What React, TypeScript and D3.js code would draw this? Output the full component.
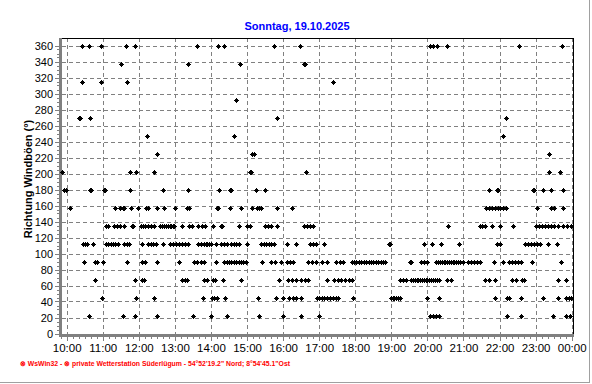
import React from "react";
import * as d3 from "d3";

const TITLE = "Sonntag, 19.10.2025";
const Y_LABEL = "Richtung Windböen  (°)";
const FOOTER = "⊗ WsWin32  -  ⊗ private Wetterstation Süderlügum  -  54°52'19.2\" Nord; 8°54'45.1\"Ost";

const Y_TICKS = [0, 20, 40, 60, 80, 100, 120, 140, 160, 180, 200, 220, 240, 260, 280, 300, 320, 340, 360];
const X_TICK_HOURS = [10, 11, 12, 13, 14, 15, 16, 17, 18, 19, 20, 21, 22, 23, 24];
const X_TICK_LABELS = ["10:00", "11:00", "12:00", "13:00", "14:00", "15:00", "16:00", "17:00", "18:00", "19:00", "20:00", "21:00", "22:00", "23:00", "00:00"];

// wind gust direction samples: times (HH:MM) per direction (degrees)
const d360 = ["10:26", "10:37", "10:57", "11:39", "11:53", "13:37", "14:11", "14:21", "15:44", "16:28", "20:05", "20:10", "20:16", "20:33", "22:32", "23:44"];
const d337 = ["11:30", "13:21", "14:48", "16:34", "16:36"];
const d315 = ["10:25", "10:57", "11:41", "17:23"];
const d292 = ["14:41"];
const d270 = ["10:20", "10:22", "10:39", "15:49", "22:10"];
const d247 = ["12:13", "14:39", "22:06"];
const d225 = ["12:31", "15:08", "15:11", "23:22"];
const d202 = ["09:52", "11:45", "11:56", "12:26", "15:05", "15:07", "16:38", "23:22", "23:40"];
const d180 = ["09:56", "09:58", "10:39", "10:41", "11:02", "11:04", "11:45", "12:40", "13:21", "14:13", "14:31", "14:33", "15:15", "15:30", "21:42", "21:56", "21:58", "22:56", "22:58", "23:12", "23:25", "23:45"];
const d157 = ["10:06", "11:20", "11:29", "11:33", "11:36", "11:47", "11:59", "12:12", "12:15", "12:30", "12:41", "13:00", "13:20", "13:24", "14:10", "14:12", "14:32", "14:50", "15:08", "15:16", "15:20", "15:24", "15:49", "16:14", "21:37", "21:42", "21:47", "21:52", "21:57", "22:01", "22:06", "22:11", "23:02", "23:26", "23:30", "23:45"];
const d135 = ["11:05", "11:09", "11:19", "11:23", "11:28", "11:35", "11:48", "11:50", "12:03", "12:07", "12:11", "12:15", "12:20", "12:26", "12:36", "12:39", "12:42", "12:45", "12:48", "12:51", "12:54", "12:57", "12:59", "13:11", "13:24", "13:28", "13:39", "13:45", "13:50", "14:04", "14:16", "14:18", "14:46", "15:00", "15:05", "15:30", "15:35", "15:39", "15:50", "16:34", "16:39", "16:45", "16:50", "20:35", "21:27", "21:31", "21:35", "21:47", "22:01", "22:23", "23:01", "23:06", "23:11", "23:16", "23:21", "23:26", "23:31", "23:37", "23:45", "23:52", "23:59"];
const d112 = ["10:27", "10:30", "10:34", "10:44", "11:05", "11:09", "11:13", "11:17", "11:21", "11:25", "11:36", "11:40", "11:44", "12:06", "12:16", "12:20", "12:24", "12:29", "12:40", "12:51", "12:56", "13:01", "13:06", "13:11", "13:16", "13:21", "13:38", "13:43", "13:48", "13:52", "13:54", "13:56", "14:00", "14:08", "14:17", "14:22", "14:27", "14:33", "14:38", "14:42", "14:46", "15:00", "15:24", "15:28", "15:32", "15:36", "15:40", "15:44", "16:07", "16:22", "16:45", "16:50", "16:55", "17:08", "18:56", "18:58", "19:55", "20:08", "20:22", "20:52", "21:55", "22:00", "22:42", "22:47", "22:52", "22:57", "23:02", "23:07", "23:21", "23:36"];
const d90 = ["10:28", "10:47", "10:51", "11:00", "11:40", "12:06", "12:10", "12:31", "13:07", "13:31", "13:37", "13:43", "13:49", "14:08", "14:22", "14:26", "14:30", "14:34", "14:38", "14:42", "14:46", "14:50", "14:54", "14:58", "15:25", "15:39", "15:47", "15:56", "16:06", "16:11", "16:16", "16:41", "16:48", "16:55", "17:04", "17:13", "17:28", "17:34", "17:40", "17:54", "17:58", "18:02", "18:06", "18:10", "18:14", "18:18", "18:22", "18:26", "18:30", "18:34", "18:38", "18:42", "18:46", "18:50", "19:31", "19:33", "19:50", "19:55", "20:00", "20:15", "20:18", "20:21", "20:24", "20:27", "20:30", "20:33", "20:36", "20:39", "20:42", "20:45", "20:48", "20:51", "20:55", "20:59", "21:08", "21:13", "21:18", "21:23", "21:28", "21:51", "22:05", "22:16", "22:21", "22:26", "22:31", "22:36", "22:54", "23:42"];
const d67 = ["10:47", "11:54", "12:05", "12:08", "13:11", "13:16", "13:20", "13:48", "13:54", "14:03", "14:06", "14:20", "14:50", "15:53", "16:08", "16:15", "16:22", "16:29", "16:36", "16:42", "17:13", "17:25", "17:31", "17:37", "17:43", "17:49", "17:55", "19:14", "19:20", "19:25", "19:33", "19:36", "19:39", "19:42", "19:45", "19:48", "19:51", "19:54", "19:57", "20:00", "20:03", "20:06", "20:09", "20:12", "20:16", "20:20", "20:32", "20:40", "21:35", "21:42", "21:53", "22:20", "22:28", "22:38", "22:40", "23:38", "23:51"];
const d45 = ["10:58", "11:56", "12:25", "13:46", "14:01", "14:05", "14:10", "14:23", "15:19", "15:48", "16:00", "16:10", "16:16", "16:22", "16:29", "16:56", "17:00", "17:04", "17:08", "17:13", "17:18", "17:23", "17:28", "17:32", "17:56", "18:59", "19:02", "19:05", "19:08", "19:11", "19:14", "20:00", "20:19", "21:53", "22:13", "22:15", "22:36", "23:12", "23:37", "23:51", "23:55", "23:59"];
const d22 = ["10:37", "11:33", "11:54", "12:30", "13:30", "14:00", "14:26", "15:20", "15:59", "16:30", "17:00", "20:04", "20:09", "20:14", "20:20", "22:12", "22:35", "23:29", "23:51", "23:58"];

const DIRECTIONS = [360, 337.5, 315, 292.5, 270, 247.5, 225, 202.5, 180, 157.5, 135, 112.5, 90, 67.5, 45, 22.5];
const TIMES = [d360, d337, d315, d292, d270, d247, d225, d202, d180, d157, d135, d112, d90, d67, d45, d22];

const toMin = (s: string) => {
  const [h, m] = s.split(":").map(Number);
  return h * 60 + m;
};

export default function App() {
  const W = 592;
  const H = 384;
  const left = 60, right = 574, top = 38, bottom = 334;
  const x = d3.scaleLinear().domain([toMin("09:48"), toMin("24:03")]).range([left, right]);
  const y = d3.scaleLinear().domain([0, 360]).range([bottom, 46]);

  const points: { px: number; py: number }[] = [];
  DIRECTIONS.forEach((dir, i) => {
    TIMES[i].forEach((t) => {
      points.push({ px: Math.round(x(toMin(t)) - 0.5), py: Math.round(y(dir) - 0.5) });
    });
  });

  const marker = (px: number, py: number) =>
    `M${px},${py - 2}h1v1h1v1h1v1h-1v1h-1v1h-1v-1h-1v-1h-1v-1h1v-1h1z`;

  const minorX = d3.range(toMin("09:50"), toMin("24:01"), 10);
  const minorY = d3.range(0, 361, 5);
  const font = "'Liberation Sans', Arial, sans-serif";

  return (
    <svg width={W} height={H} style={{ position: "absolute", left: 0, top: 0, background: "#fff" }} fontFamily={font}>
      <rect x={0} y={0} width={W} height={H} fill="#fff" />
      <text x={297} y={30} textAnchor="middle" fontSize={11} fontWeight="bold" fill="#0000ff">{TITLE}</text>

      {/* horizontal grid */}
      {Y_TICKS.filter((v) => v > 0).map((v) => (
        <line key={"hg" + v} x1={62} x2={right} y1={Math.round(y(v) - 0.5) + 0.5} y2={Math.round(y(v) - 0.5) + 0.5}
          stroke="#808080" strokeDasharray="4,3" shapeRendering="crispEdges" />
      ))}
      {/* vertical grid */}
      {X_TICK_HOURS.map((h) => (
        <line key={"vg" + h} x1={Math.round(x(h * 60) - 0.5) + 0.5} x2={Math.round(x(h * 60) - 0.5) + 0.5} y1={top} y2={bottom}
          stroke="#808080" strokeDasharray="4,3" shapeRendering="crispEdges" />
      ))}

      {/* frame */}
      <line x1={left} x2={right} y1={top + 0.5} y2={top + 0.5} stroke="#000" shapeRendering="crispEdges" />
      <line x1={right - 0.5} x2={right - 0.5} y1={top} y2={bottom + 2} stroke="#000" shapeRendering="crispEdges" />

      {/* axes */}
      <rect x={59} y={top} width={3} height={bottom - top + 3} fill="#808080" />
      <rect x={59} y={bottom} width={right - 59} height={3} fill="#808080" />
      {minorY.map((v) => (
        <line key={"ty" + v} x1={v % 20 === 0 ? 55 : 57} x2={59} y1={Math.round(y(v) - 0.5) + 0.5} y2={Math.round(y(v) - 0.5) + 0.5}
          stroke="#808080" shapeRendering="crispEdges" />
      ))}
      {minorX.map((m) => (
        <line key={"tx" + m} x1={Math.round(x(m) - 0.5) + 0.5} x2={Math.round(x(m) - 0.5) + 0.5} y1={bottom + 3} y2={m % 60 === 0 ? bottom + 7 : bottom + 5}
          stroke="#808080" shapeRendering="crispEdges" />
      ))}

      {/* y tick labels */}
      {Y_TICKS.map((v) => (
        <text key={"yl" + v} x={53} y={y(v) + 4} textAnchor="end" fontSize={11} fill="#000">{v}</text>
      ))}
      {/* x tick labels */}
      {X_TICK_HOURS.map((h, i) => (
        <text key={"xl" + h} x={x(h * 60)} y={352} textAnchor="middle" fontSize={11.5} fill="#000">{X_TICK_LABELS[i]}</text>
      ))}

      <text transform="translate(32,179) rotate(-90)" textAnchor="middle" fontSize={11} fontWeight="bold" fill="#000">{Y_LABEL}</text>

      {/* data */}
      <path d={points.map((p) => marker(p.px, p.py)).join("")} fill="#000" shapeRendering="crispEdges" />

      <text x={20} y={366} fontSize={7} fontWeight="bold" fill="#ff0000" textLength={270} lengthAdjust="spacingAndGlyphs">{FOOTER}</text>

      <line x1={0} x2={590} y1={382.5} y2={382.5} stroke="#a0a0a0" shapeRendering="crispEdges" />
      <line x1={589.5} x2={589.5} y1={0} y2={383} stroke="#a0a0a0" shapeRendering="crispEdges" />
    </svg>
  );
}
